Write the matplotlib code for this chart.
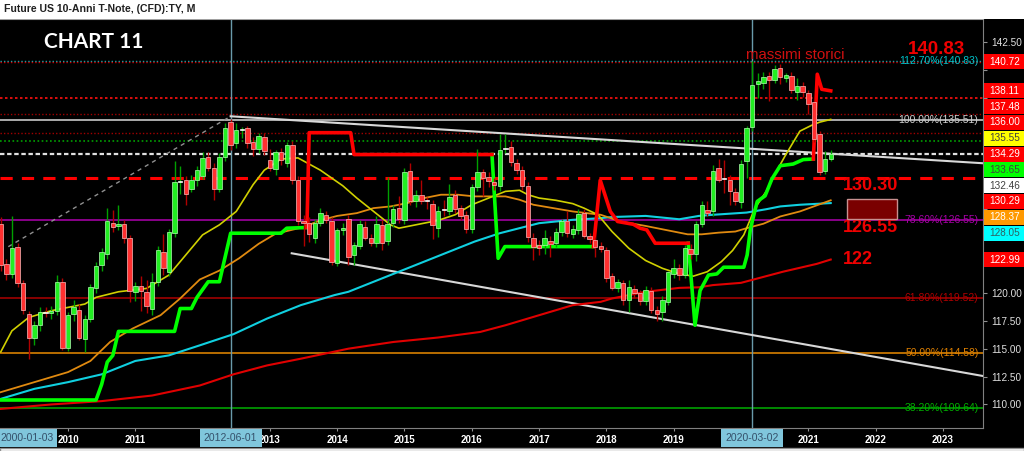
import numpy as np
import matplotlib
matplotlib.use('Agg')
import matplotlib.pyplot as plt
from matplotlib.patches import Rectangle
from matplotlib.transforms import blended_transform_factory

plt.rcParams['font.family'] = ['Liberation Sans', 'DejaVu Sans']
nan = np.nan

# monthly bars, first bar = Jan 2009 (one row per year)
opens = [126.2, 122.6, 121.7, 124.1, 120.9, 118.1, 116.0, 117.1, 118.3, 118.2, 118.4, 121.0,
         115.1, 118.1, 118.5, 115.9, 117.7, 120.4, 122.5, 123.5, 126.3, 126.0, 126.2, 124.9,
         120.1, 120.6, 120.1, 118.6, 121.0, 123.7, 121.9, 125.4, 129.9, 130.1, 129.3, 130.1,
         130.5, 132.2, 131.2, 129.3, 132.2, 135.35, 133.4, 134.6, 134.75, 133.5, 132.9, 134.0,
         131.9, 131.1, 132.6, 131.65, 133.3, 130.15, 126.4, 126.3, 124.9, 126.3, 127.0, 126.4,
         122.7, 125.6, 126.6, 123.4, 124.2, 125.95, 124.95, 124.45, 126.1, 124.65, 126.25, 127.65,
         126.55, 130.9, 128.25, 128.75, 128.25, 128.0, 125.8, 127.45, 127.35, 128.8, 127.6, 127.0,
         125.75, 129.45, 130.8, 130.35, 129.9, 129.55, 132.9, 133.05, 131.65, 131.05, 129.55, 124.95,
         124.3, 124.25, 124.65, 124.45, 125.5, 126.4, 125.3, 125.65, 127.15, 125.1, 124.75, 124.2,
         123.8, 121.5, 120.45, 120.85, 119.35, 120.35, 119.95, 119.25, 120.2, 118.5, 118.3, 119.2,
         121.7, 122.2, 121.6, 123.95, 123.5, 126.2, 127.45, 127.3, 131.15, 130.25, 130.15, 129.0,
         128.15, 131.8, 134.9, 138.7, 138.85, 139.45, 139.05, 140.15, 139.3, 139.4, 138.05, 138.55,
         137.95, 137.1, 134.2, 130.9, 132.0]
highs = [126.8, 123.0, 126.9, 124.5, 121.2, 118.4, 117.5, 118.7, 118.7, 118.8, 121.6, 121.3,
         118.3, 119.4, 119.0, 118.0, 120.8, 122.8, 124.0, 127.6, 127.4, 127.9, 126.5, 125.2,
         121.0, 121.5, 121.2, 121.8, 124.2, 125.3, 125.7, 131.8, 131.4, 130.5, 130.6, 131.4,
         132.6, 132.6, 131.6, 132.5, 135.2, 135.55, 135.2, 134.9, 135.0, 134.0, 134.3, 134.3,
         132.9, 132.8, 133.0, 133.5, 133.6, 130.5, 127.0, 126.8, 126.6, 127.6, 127.3, 126.8,
         125.8, 126.3, 127.0, 124.6, 126.5, 126.4, 125.3, 126.85, 126.5, 130.35, 127.9, 128.65,
         131.2, 131.65, 129.2, 130.1, 128.6, 128.3, 127.8, 128.3, 129.75, 129.2, 127.9, 127.3,
         129.8, 132.9, 131.1, 130.8, 130.3, 134.2, 134.2, 133.6, 132.0, 131.4, 129.9, 125.4,
         124.7, 125.6, 125.1, 125.8, 126.6, 127.3, 126.1, 127.5, 127.5, 125.4, 125.0, 124.6,
         124.1, 121.8, 121.25, 121.2, 121.2, 120.7, 120.3, 120.6, 120.5, 118.8, 119.7, 122.0,
         123.0, 122.6, 124.3, 124.4, 126.4, 128.2, 128.25, 131.5, 132.0, 131.95, 130.6, 129.4,
         131.95, 135.0, 140.8, 139.7, 139.8, 139.8, 140.4, 140.5, 139.7, 139.8, 139.3, 138.9,
         138.2, 137.4, 134.5, 132.7, 132.8]
lows = [122.0, 121.2, 121.3, 120.5, 118.1, 114.1, 115.3, 116.6, 117.8, 117.7, 118.0, 114.9,
        114.8, 117.5, 115.8, 114.7, 117.4, 120.0, 122.0, 123.0, 125.5, 125.6, 124.5, 119.2,
        119.3, 118.4, 118.2, 118.0, 120.6, 121.6, 121.5, 125.0, 128.9, 127.9, 129.0, 129.6,
        130.2, 130.9, 128.35, 129.0, 131.8, 132.8, 133.0, 133.9, 133.0, 132.3, 132.5, 132.4,
        130.9, 130.6, 131.5, 131.3, 129.8, 126.1, 124.2, 124.6, 124.5, 126.0, 126.3, 122.5,
        122.4, 125.2, 122.5, 122.5, 123.9, 124.7, 124.2, 124.1, 123.85, 124.3, 125.9, 126.3,
        126.2, 127.9, 127.7, 128.0, 127.5, 124.85, 125.05, 126.9, 127.0, 127.2, 126.5, 125.4,
        125.4, 129.1, 128.65, 129.5, 129.2, 129.1, 132.5, 131.4, 130.7, 129.2, 124.6, 122.95,
        123.4, 123.5, 123.25, 124.1, 125.1, 125.0, 124.9, 125.3, 124.9, 124.5, 123.2, 123.7,
        121.0, 120.3, 120.1, 118.9, 118.3, 119.5, 118.9, 118.9, 118.2, 117.45, 117.5, 118.9,
        121.3, 121.2, 121.3, 123.0, 122.9, 125.9, 126.9, 126.9, 129.9, 128.95, 127.9, 127.9,
        127.6, 130.3, 134.5, 137.5, 138.3, 137.2, 138.8, 138.7, 138.9, 137.9, 137.3, 137.6,
        136.0, 133.5, 130.6, 130.7, 131.8]
closes = [122.5, 121.7, 124.0, 120.9, 118.5, 116.0, 117.1, 118.3, 118.2, 118.4, 121.0, 115.1,
          118.0, 118.7, 116.0, 117.7, 120.5, 122.4, 123.7, 126.4, 125.9, 126.2, 124.9, 120.2,
          120.6, 120.2, 118.8, 121.0, 123.8, 122.2, 125.5, 129.9, 130.0, 128.9, 130.1, 131.05,
          132.1, 131.2, 129.3, 132.2, 134.8, 133.3, 134.6, 134.7, 133.4, 132.9, 134.1, 132.7,
          131.2, 132.6, 131.9, 133.3, 130.1, 126.4, 126.25, 125.3, 126.25, 127.15, 126.55, 122.8,
          125.6, 125.8, 123.25, 124.3, 126.2, 124.95, 124.45, 126.15, 124.45, 126.15, 127.55, 126.65,
          130.8, 128.25, 128.75, 128.25, 128.2, 126.05, 127.3, 127.4, 128.6, 127.55, 126.85, 125.75,
          129.45, 130.8, 130.3, 130.0, 129.7, 132.85, 132.95, 131.75, 131.05, 129.55, 125.05, 124.1,
          124.0, 124.95, 124.35, 125.5, 126.45, 125.35, 125.75, 127.05, 125.1, 124.8, 124.1, 123.9,
          121.35, 120.4, 121.0, 119.35, 120.55, 119.95, 119.25, 120.25, 118.5, 118.1, 119.4, 121.85,
          122.25, 121.6, 124.05, 123.45, 126.2, 127.85, 127.2, 130.9, 130.15, 130.2, 129.1, 128.25,
          131.55, 134.75, 138.6, 139.0, 139.35, 139.05, 140.05, 139.35, 139.55, 138.15, 138.55, 138.0,
          136.95, 133.75, 130.8, 132.0, 132.46]

# moving averages, sampled by month index (0 = Jan 2009)
yellow_m = [0, 2, 5, 9, 15, 17, 21, 26, 30, 33, 36, 39, 42, 45, 47, 50, 53, 57, 59, 61, 63.5,
            66.5, 69.5, 71, 75, 78, 81, 84, 87, 90, 92.5, 94, 96, 99, 102, 104, 106.5, 109, 112,
            115, 118, 121, 123.5, 126, 128.5, 130.5, 132.5, 134.5, 136.5, 138, 140, 142.5,
            144.5, 146, 148]
yellow_v = [114.7, 116.6, 117.8, 118.4, 119.0, 119.6, 120.1, 120.4, 121.6, 123.4, 125.2, 126.1,
            127.3, 129.7, 131.0, 132.0, 132.1, 131.0, 130.3, 129.6, 128.5, 127.3, 126.1, 125.8,
            126.2, 126.5, 127.0, 127.9, 128.5, 129.1, 129.2, 128.8, 128.5, 128.3, 128.0, 127.6,
            127.0, 125.5, 124.0, 122.9, 122.2, 121.7, 121.5, 121.9, 122.8, 123.8, 125.2, 127.6,
            129.1, 130.6, 132.4, 134.5, 135.0, 135.3, 135.55]
orange_m = [0, 6, 12, 16, 19.5, 23.5, 28.5, 32, 35.5, 39, 42.5, 46, 49, 51.5, 54, 57, 60, 63.5,
            66.5, 69.5, 72.5, 75.5, 78.5, 81.5, 84.5, 90, 92.5, 95, 98.5, 102, 107, 110.5, 115,
            119, 122.5, 125, 128, 131, 133, 136, 139, 142.5, 148]
orange_v = [111.1, 112.0, 112.9, 113.9, 115.6, 116.8, 118.0, 119.5, 121.2, 122.0, 123.1, 124.4,
            125.3, 125.6, 125.9, 126.5, 126.9, 127.15, 127.6, 127.75, 128.05, 128.5, 128.8,
            128.8, 128.65, 128.65, 128.35, 127.9, 127.6, 127.3, 127.0, 126.4, 126.0, 125.6,
            125.25, 125.25, 125.4, 125.5, 125.8, 126.2, 126.85, 127.3, 128.3]
cyan_m = [0, 6, 12, 18, 24, 30, 35.5, 41.5, 47.5, 53.5, 59.5, 62, 66.5, 72.5, 78.5, 84.5, 89,
          92.5, 96, 102, 107, 109, 115, 121, 124.5, 127, 131.5, 133, 136.5, 139, 142.5, 148]
cyan_v = [110.5, 111.4, 112.0, 112.7, 113.9, 114.4, 115.3, 116.3, 117.7, 118.9, 119.8, 120.1,
          121.0, 122.2, 123.4, 124.6, 125.35, 125.8, 126.25, 126.55, 126.7, 126.8, 126.9, 126.6,
          126.9, 127.0, 127.15, 127.2, 127.5, 127.75, 127.9, 128.05]
red_m = [0, 9, 18, 27, 35.5, 41.5, 47.5, 53.5, 62, 70, 78, 85.5, 90, 96, 102, 107, 109, 115,
         121, 124.5, 127, 132, 139.5, 145.5, 148]
red_v = [109.6, 110.0, 110.3, 110.8, 111.7, 112.7, 113.5, 114.1, 115.0, 115.6, 116.0, 116.5,
         117.1, 118.0, 118.9, 119.2, 119.5, 120.1, 120.45, 120.5, 120.7, 120.9, 121.9, 122.6,
         122.99]

# trend-following stop line (green = long, red = short)
st_up_m = [0, 17, 18, 19, 20, 21, 31, 32, 34, 35, 37, 39, 41, 50, 51, 54.6, nan,
           87.6, 88.7, 89.9, 105.7, nan,
           122.6, 123.8, 124.7, 126.2, 127.7, 128.9, 132.5, 133.1, 133.7, 134.9, 136.3, 137.5,
           139, 141.3, 143.1, 144.9]
st_up_v = [110.4, 110.4, 111.8, 113.8, 114.4, 116.55, 116.55, 118.6, 118.6, 119.6, 121.0, 121.0,
           125.35, 125.35, 125.8, 125.86, nan,
           132.4, 123.1, 124.15, 124.15, nan,
           124.45, 117.1, 120.2, 121.6, 121.7, 122.3, 122.3, 123.4, 125.8, 128.2, 128.7, 130.2,
           131.4, 131.55, 131.95, 132.0]
st_dn_m = [54.6, 55.0, 62.4, 63.0, 87.6, nan,
           105.7, 106.9, 108.7, 110, 112.8, 114, 115.2, 116.7, 122.6, nan,
           144.9, 145.6, 146.4, 148]
st_dn_v = [125.86, 134.36, 134.36, 132.4, 132.4, nan,
           124.15, 130.1, 127.3, 126.4, 126.15, 125.8, 125.65, 124.45, 124.45, nan,
           132.0, 139.6, 138.25, 138.11]

# horizontal levels
level_vals = [140.83, 140.72, 137.48, 136.00, 135.51, 134.29, 133.65, 132.46, 130.29,
              126.55, 119.52, 114.58, 109.64]
level_colors = ['#00b8c0', '#d00000', '#ff1010', '#a00000', '#c8c8c8', '#a00000', '#00a000',
                '#e0e0e0', '#ff0000', '#a000a0', '#a00000', '#d88000', '#00a000']
level_styles = [(0, (1, 1.5)), (0, (1, 1.5)), (0, (1.5, 1.5)), (0, (1, 1.5)), '-', (0, (1, 1.5)),
                (0, (1, 1.5)), (0, (2, 1.2)), (0, (4, 3)), '-', '-', '-', '-']
level_widths = [1, 1, 1.2, 1, 1.2, 1, 1.2, 1.6, 2.2, 1.2, 1.2, 1.2, 1.2]

fib_text = ['112.70%(140.83)', '100.00%(135.51)', '78.60%(126.55)', '61.80%(119.52)',
            '50.00%(114.58)', '38.20%(109.64)']
fib_vals = [140.83, 135.51, 126.55, 119.52, 114.58, 109.64]
fib_colors = ['#00c0c8', '#d0d0d0', '#a800a8', '#b00000', '#e08000', '#00b000']

# price tags on the right axis
tag_vals = [140.72, 138.11, 137.48, 136.00, 135.55, 134.29, 133.65, 132.46, 130.29, 128.37,
            128.05, 122.99]
tag_bg = ['#ff0000', '#ff0000', '#ff0000', '#ff0000', '#ffff00', '#ff0000', '#00ff00',
          '#ffffff', '#ff0000', '#ff9900', '#00ffff', '#ff0000']
tag_fg = ['white', 'white', 'white', 'white', '#404040', 'white', '#404040', '#404040',
          'white', 'white', '#306060', 'white']

years = list(range(2010, 2024))
vline_dates = [2012 + 5 / 12, 2020 + 2 / 12]
vline_text = ['2012-06-01', '2020-03-02']

fig = plt.figure(figsize=(10.24, 4.51), dpi=100, facecolor='black')
ax = fig.add_axes([0, 23 / 451, 983 / 1024, 409 / 451])
ax.set_facecolor('black')
x0, x1 = 2008.9896, 2023.596
ax.set_xlim(x0, x1)
ax.set_ylim(107.89, 144.55)

for v, col, ls, lw in zip(level_vals, level_colors, level_styles, level_widths):
    ax.axhline(v, color=col, ls=ls, lw=lw, zorder=1)
for v, txt, col in zip(fib_vals, fib_text, fib_colors):
    ax.text(2023.53, v, txt, color=col, fontsize=7.5, ha='right', va='center', zorder=1.5)
for d in vline_dates:
    ax.axvline(d, color='#6a9aaa', lw=1, zorder=1)

# trend lines
ax.plot([2012 + 5 / 12, x1], [135.83, 131.62], color='#d8d8d8', lw=1.5, zorder=2)
ax.plot([2013.324, x1], [123.55, 112.55], color='#d8d8d8', lw=1.5, zorder=2)
ax.plot([2009.113, 2012 + 5 / 12], [124.14, 135.83], color='#909090', lw=1, ls=(0, (3, 3)), zorder=2)

def mdate(m):
    return 2009 + np.asarray(m, dtype=float) / 12

ax.plot(mdate(red_m), red_v, color='#e00000', lw=1.5, zorder=2)
ax.plot(mdate(cyan_m), cyan_v, color='#10d0e0', lw=1.5, zorder=2)
ax.plot(mdate(orange_m), orange_v, color='#e08a10', lw=1.3, zorder=2)
ax.plot(mdate(yellow_m), yellow_v, color='#d0d000', lw=1.2, zorder=2)
ax.plot(mdate(st_up_m), st_up_v, color='#00ff00', lw=2.6, zorder=2.5)
ax.plot(mdate(st_dn_m), st_dn_v, color='#ff0000', lw=2.6, zorder=2.5)

# candles
o, h, l, c = map(np.array, (opens, highs, lows, closes))
t = 2009 + np.arange(len(c)) / 12
up = c >= o
doji = np.abs(c - o) < 0.12
ax.vlines(t[up], l[up], h[up], color='#00a000', lw=1, zorder=3)
ax.vlines(t[~up], l[~up], h[~up], color='#b00000', lw=1, zorder=3)
body = np.maximum(np.abs(c - o), 0.1)
bottom = np.minimum(o, c)
w = 0.066
m1 = up & ~doji
m2 = ~up & ~doji
ax.bar(t[m1], body[m1], bottom=bottom[m1], width=w, color='#22ee22', edgecolor='#b0ffb0', lw=0.5, zorder=4)
ax.bar(t[m2], body[m2], bottom=bottom[m2], width=w, color='#ff3030', edgecolor='#ffb8b8', lw=0.5, zorder=4)
ax.bar(t[doji], body[doji], bottom=bottom[doji], width=w, color='#e8e8e8', edgecolor='#ffffff', lw=0.5, zorder=4)

# annotations
ax.text(2009.643, 142.49, 'CHART 11', color='white', fontsize=15, fontweight='bold',
        family=['Lato', 'Liberation Sans'], va='center', ha='left', zorder=6)
ax.text(2020.074, 141.3, 'massimi storici', color='#d01010', fontsize=10.8, va='center', ha='left', zorder=6)
ax.text(2022.481, 141.86, '140.83', color='#ee0000', fontsize=13.5, fontweight='bold', va='center', zorder=6)
ax.text(2021.516, 129.67, '130.30', color='#ee0000', fontsize=13, fontweight='bold', va='center', zorder=6)
ax.text(2021.516, 125.9, '126.55', color='#ee0000', fontsize=13, fontweight='bold', va='center', zorder=6)
ax.text(2021.516, 123.0, '122', color='#ee0000', fontsize=13, fontweight='bold', va='center', zorder=6)
ax.add_patch(Rectangle((2021.575, 126.62), 0.743, 1.8, fc='#7a0000', ec='#c89090', lw=1, zorder=6))

# axes styling
ax.spines['left'].set_visible(False)
ax.spines['top'].set_color('#a0a0a0')
ax.spines['right'].set_color('#808080')
ax.spines['bottom'].set_color('#808080')
ax.yaxis.tick_right()

# stacked price tags: work out their pixel rows first
tag_rows = []
prev = -1e9
for v, bg, fg in sorted(zip(tag_vals, tag_bg, tag_fg), reverse=True):
    ytop = 451 - ax.transData.transform((x0, v))[1]
    ytop = max(ytop, prev + 15.8)
    prev = ytop
    tag_rows.append((ytop, v, bg, fg))

# axis numbers hidden behind the tags are left out
yt = np.arange(110, 143, 2.5)
ylab = []
for v in yt:
    yp = 451 - ax.transData.transform((x0, v))[1]
    covered = any(abs(yp - r[0]) < 13 for r in tag_rows)
    ylab.append('' if covered else '%.2f' % v)
ax.set_yticks(yt)
ax.set_yticklabels(ylab)
ax.tick_params(axis='y', colors='#909090', labelcolor='#e0e0e0', labelsize=7.2, length=3, pad=3)
ax.set_xticks(years)
xlab = ['' if y in (2012, 2020) else str(y) for y in years]
ax.set_xticklabels(xlab, fontweight='bold')
ax.tick_params(axis='x', colors='#909090', labelcolor='white', labelsize=7, length=2, pad=3)

# date boxes under the axis
tr = blended_transform_factory(ax.transData, ax.transAxes)
box = dict(boxstyle='square,pad=0.4', fc='#80c6dc', ec='none')
ax.text(x0, -0.0245, '2000-01-03', transform=tr, ha='left', va='center', fontsize=7.5,
        color='#34506a', bbox=box, clip_on=False, zorder=10)
for d, txt in zip(vline_dates, vline_text):
    ax.text(d, -0.0245, txt, transform=tr, ha='center', va='center', fontsize=7.5,
            color='#34506a', bbox=box, clip_on=False, zorder=10)

for ytop, v, bg, fg in tag_rows:
    yf = 1 - ytop / 451
    fig.add_artist(Rectangle((983.5 / 1024, yf - 7.5 / 451), 40.5 / 1024, 15 / 451,
                             transform=fig.transFigure, fc=bg, ec='none', zorder=5))
    fig.text(989 / 1024, yf, '%.2f' % v, color=fg, fontsize=7.2, va='center', ha='left', zorder=6)

# header and footer strips
fig.add_artist(Rectangle((0, 1 - 18.5 / 451), 1, 18.5 / 451, transform=fig.transFigure,
                         fc='white', ec='none', zorder=5))
fig.text(4 / 1024, 1 - 9.5 / 451, 'Future US 10-Anni T-Note, (CFD):TY, M', fontsize=7.6,
         fontweight='bold', color='#202020', va='center', zorder=6)
fig.add_artist(Rectangle((0, 0), 1, 3.5 / 451, transform=fig.transFigure,
                         fc='white', ec='#909090', lw=1, zorder=5))

fig.savefig('out.png', dpi=100, facecolor='black')
